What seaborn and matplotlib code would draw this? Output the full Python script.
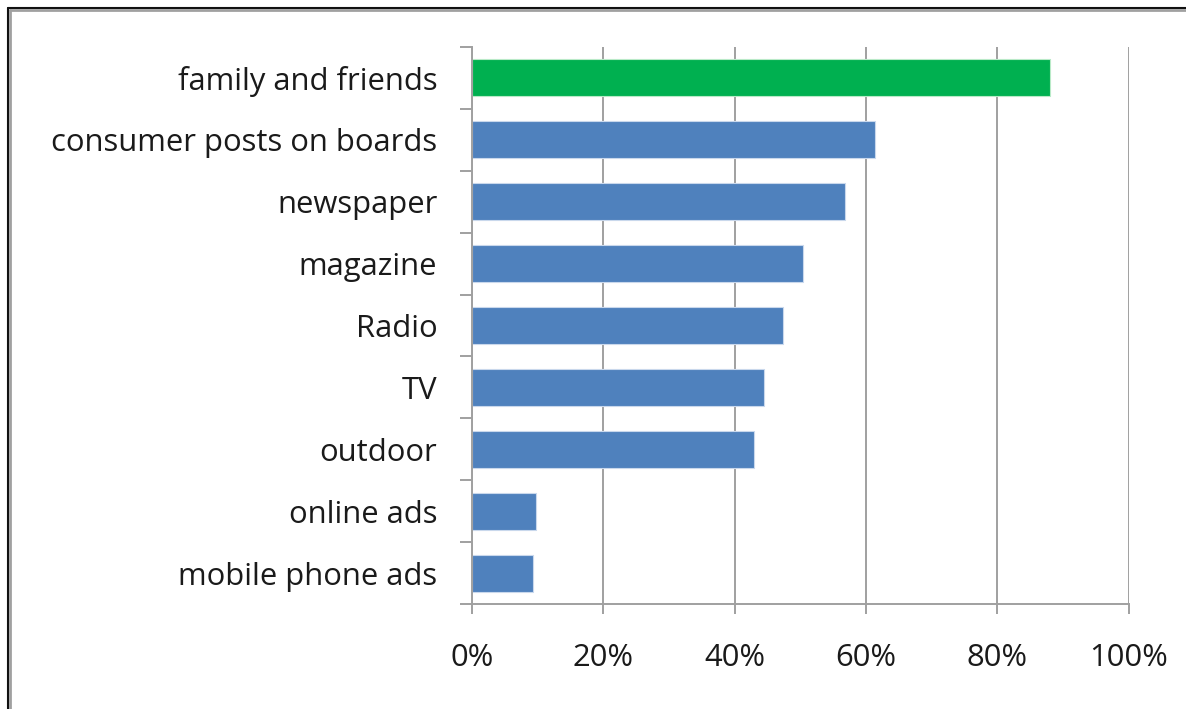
import matplotlib
matplotlib.use("Agg")
import matplotlib.pyplot as plt
import matplotlib.ticker as mticker
from matplotlib.lines import Line2D
import seaborn as sns
import pandas as pd

categories = ["family and friends", "consumer posts on boards", "newspaper", "magazine",
              "Radio", "TV", "outdoor", "online ads", "mobile phone ads"]
values = [88.0, 61.4, 56.8, 50.4, 47.3, 44.4, 43.0, 9.8, 9.3]
bar_colors = ["#00B050"] + ["#4F81BD"] * 8
x_ticks = [0, 20, 40, 60, 80, 100]

sns.set_theme(style="white")
plt.rcParams['font.family'] = ['Open Sans', 'DejaVu Sans']

df = pd.DataFrame({"category": categories, "value": values})
W, H = 1186, 709
fig = plt.figure(figsize=(W / 100, H / 100), dpi=100)
ax = fig.add_axes([472 / W, 1 - 604.3 / H, (1128.7 - 472) / W, (604.3 - 46.7) / H])

sns.barplot(data=df, y="category", x="value", hue="category",
            palette=dict(zip(categories, bar_colors)), legend=False,
            width=0.59, ax=ax, edgecolor="#c9d8ec", linewidth=0.8, saturation=1)
for p, c in zip(ax.patches, bar_colors):
    if c == "#00B050":
        p.set_edgecolor("#b9eac8")

ax.set_xlim(0, 100)
ax.set_ylim(len(categories) - 0.5, -0.5)
ax.set_xticks(x_ticks)
ax.xaxis.set_major_formatter(mticker.FuncFormatter(lambda v, pos: f"{int(v)}%"))
ax.set_xlabel("")
ax.set_ylabel("")

ax.grid(axis="x", color="#a0a0a0", linewidth=1.4)
ax.set_axisbelow(True)
for s in ["top", "right"]:
    ax.spines[s].set_visible(False)
for s in ["left", "bottom"]:
    ax.spines[s].set_color("#a0a0a0")
    ax.spines[s].set_linewidth(1.4)

ax.set_yticks(range(len(categories)))
ax.set_yticklabels(categories)
ax.set_yticks([i - 0.5 for i in range(len(categories) + 1)], minor=True)
ax.tick_params(axis="y", which="major", length=0, pad=25, labelsize=22.3, labelcolor="#1a1a1a")
ax.tick_params(axis="y", which="minor", left=True, length=8.6, width=1.4, color="#a0a0a0")
ax.tick_params(axis="x", which="major", bottom=True, length=7.2, width=1.4, color="#a0a0a0",
               pad=21, labelsize=22.3, labelcolor="#1a1a1a")

# window-like frame at top and left
fig.add_artist(Line2D([7.5 / W, 7.5 / W], [0, 1 - 7.5 / H], transform=fig.transFigure, color="#111111", lw=1.5))
fig.add_artist(Line2D([10 / W, 10 / W], [0, 1 - 10 / H], transform=fig.transFigure, color="#a0a0a0", lw=2))
fig.add_artist(Line2D([7.5 / W, 1], [1 - 7.5 / H, 1 - 7.5 / H], transform=fig.transFigure, color="#111111", lw=1.5))
fig.add_artist(Line2D([10 / W, 1], [1 - 10 / H, 1 - 10 / H], transform=fig.transFigure, color="#a0a0a0", lw=2))

fig.savefig("out.png", dpi=100, facecolor="white")
